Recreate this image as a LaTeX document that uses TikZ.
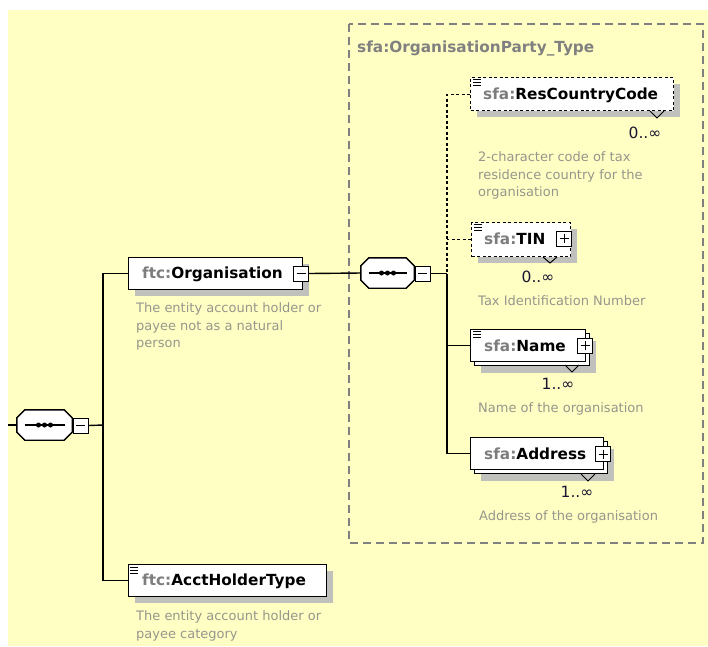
\documentclass[tikz,border=0pt]{standalone}
\usepackage{fontspec}
\setmainfont{DejaVu Sans}
\usetikzlibrary{shadows}
\definecolor{bgy}{RGB}{255,255,196}
\definecolor{shd}{RGB}{192,192,188}
\definecolor{pfx}{RGB}{125,125,125}
\definecolor{dsc}{RGB}{150,150,140}
\definecolor{ttl}{RGB}{128,128,128}
\definecolor{mult}{RGB}{25,20,50}
\tikzset{
  conn/.style={line width=1.4pt, black},
  dconn/.style={line width=1.2pt, black, dash pattern=on 3pt off 2.5pt},
  elbox/.style={draw=black, line width=1.4pt, fill=white, rectangle, inner sep=0pt, anchor=north west},
  optbox/.style={elbox, dash pattern=on 3pt off 2.5pt},
  shadowed/.style={drop shadow={shadow xshift=6pt, shadow yshift=-6pt, fill=shd, opacity=1}},
  stacked/.style={drop shadow={shadow xshift=10pt, shadow yshift=-11pt, fill=shd, opacity=1}, copy shadow={shadow xshift=4pt, shadow yshift=-4pt}},
  pmbox/.style={draw=black, line width=1pt, fill=white, rectangle, minimum size=15pt, inner sep=0pt},
  pmline/.style={line width=1pt, black},
  elname/.style={anchor=base west, inner sep=0pt, font=\fontsize{15.3}{17}\selectfont\bfseries},
  desc/.style={anchor=north west, inner sep=0pt, align=left, text=dsc, font=\fontsize{13}{17.5}\selectfont},
  multl/.style={inner sep=0pt, text=mult, font=\fontsize{15.5}{17}\selectfont},
  seqnode/.style={rectangle, inner sep=0pt},
  octa/.style={draw=black, line width=1.4pt, fill=white},
  icon/.style={line width=0.9pt, black},
  notch/.style={line width=1pt, black},
}
\newcommand\xoctpath[1]{([xshift=8pt]#1.north west) -- ([xshift=-8pt]#1.north east) -- ([yshift=-8pt]#1.north east) -- ([yshift=8pt]#1.south east) -- ([xshift=-8pt]#1.south east) -- ([xshift=8pt]#1.south west) -- ([yshift=8pt]#1.south west) -- ([yshift=-8pt]#1.north west) -- cycle}
\begin{document}
\begin{tikzpicture}[x=1pt,y=-1pt]
\useasboundingbox (0,0) rectangle (708,646);
\fill[white] (0,0) rectangle (708,646);
\fill[bgy] (8,10) rectangle (708,646);

% container
\draw[ttl, line width=1.2pt, dash pattern=on 8pt off 5pt] (349,24) rectangle (703,543);
\node[anchor=base west, inner sep=0pt, text=ttl, font=\fontsize{15.3}{17}\selectfont\bfseries] (ttlt) at (357,52.5) {sfa:OrganisationParty\_Type};

% left sequence
\node[seqnode, minimum width=55pt, minimum height=30pt] (seqL) at (44.5,425) {};
\fill[shd, shift={(6,6)}] \xoctpath{seqL};
\draw[octa] \xoctpath{seqL};
\draw[line width=1.2pt] ([xshift=-20pt]seqL.center) -- ([xshift=20pt]seqL.center);
\foreach \d in {-6,0,6} \fill ([xshift=\d pt]seqL.center) circle (2.5pt);
\node[pmbox] (mL) at (80.5,425.5) {};
\draw[pmline] ([xshift=-4.5pt]mL.center) -- ([xshift=4.5pt]mL.center);
\coordinate (jL) at (103,425);
\coordinate (inL) at (8,425);
\draw[conn] (inL) -- (seqL.west);
\draw[conn] (mL.east) -- (jL);

% Organisation
\node[elbox, shadowed, minimum width=174pt, minimum height=32pt] (org) at (128,257) {};
\node[elname] (orgt) at (142,278.5) {\textcolor{pfx}{ftc:}Organisation};
\node[pmbox] (mO) at (301,273.5) {};
\draw[pmline] ([xshift=-4.5pt]mO.center) -- ([xshift=4.5pt]mO.center);
\node[desc] (orgd) at (136,302.7) {The entity account holder or\\payee not as a natural\\person};

% AcctHolderType
\node[elbox, shadowed, minimum width=198pt, minimum height=32pt] (acct) at (128,564) {};
\node[elname] (acctt) at (142,585.5) {\textcolor{pfx}{ftc:}AcctHolderType};
\foreach \k in {0,3,6} \draw[icon] (130,567+\k) -- (138,567+\k);
\node[desc] (acctd) at (136,610.7) {The entity account holder or\\payee category};

\draw[conn] (org.west) -| (jL);
\draw[conn] (acct.west) -| (jL);

% right sequence
\node[seqnode, minimum width=53pt, minimum height=30pt] (seqR) at (387.5,273) {};
\fill[shd, shift={(6,6)}] \xoctpath{seqR};
\draw[octa] \xoctpath{seqR};
\draw[line width=1.2pt] ([xshift=-19pt]seqR.center) -- ([xshift=19pt]seqR.center);
\foreach \d in {-6,0,6} \fill ([xshift=\d pt]seqR.center) circle (2.5pt);
\node[pmbox] (mR) at (422.5,273.5) {};
\draw[pmline] ([xshift=-4.5pt]mR.center) -- ([xshift=4.5pt]mR.center);
\coordinate (jR) at (447,273.5);
\draw[conn] (mO.east) -- (seqR.west);
\draw[conn] (mR.east) -- (jR);

% ResCountryCode
\node[optbox, shadowed, minimum width=203pt, minimum height=33pt] (res) at (470,77) {};
\node[elname] (rest) at (483,99) {\textcolor{pfx}{sfa:}ResCountryCode};
\foreach \k in {0,3,6} \draw[icon] (473,79+\k) -- (481,79+\k);
\draw[notch] (650,111) -- (657,118) -- (664,111);
\node[multl] (resm) at (645,133) {0..∞};
\node[desc] (resd) at (478,151.7) {2-character code of tax\\residence country for the\\organisation};

% TIN
\node[optbox, shadowed, minimum width=99pt, minimum height=34pt] (tin) at (471,222) {};
\node[elname] (tint) at (484,244.5) {\textcolor{pfx}{sfa:}TIN};
\foreach \k in {0,3,6} \draw[icon] (474,224+\k) -- (482,224+\k);
\node[pmbox] (pT) at (564,238.5) {};
\draw[pmline] ([xshift=-4.5pt]pT.center) -- ([xshift=4.5pt]pT.center);
\draw[pmline] ([yshift=-4.5pt]pT.center) -- ([yshift=4.5pt]pT.center);
\draw[notch] (543,257) -- (550,263) -- (557,257);
\node[multl] (tinm) at (538,277) {0..∞};
\node[desc] (tind) at (478,295.7) {Tax Identification Number};

% Name
\node[elbox, stacked, minimum width=115pt, minimum height=32pt] (name) at (470,329) {};
\node[elname] (namet) at (484,351) {\textcolor{pfx}{sfa:}Name};
\foreach \k in {0,3,6} \draw[icon] (473,331+\k) -- (481,331+\k);
\node[pmbox] (pN) at (585,345.5) {};
\draw[pmline] ([xshift=-4.5pt]pN.center) -- ([xshift=4.5pt]pN.center);
\draw[pmline] ([yshift=-4.5pt]pN.center) -- ([yshift=4.5pt]pN.center);
\draw[notch] (565,365) -- (572,372) -- (579,365);
\node[multl] (namem) at (558,384) {1..∞};
\node[desc] (named) at (478,402.7) {Name of the organisation};

% Address
\node[elbox, stacked, minimum width=133pt, minimum height=32pt] (addr) at (470,437) {};
\node[elname] (addrt) at (484,459) {\textcolor{pfx}{sfa:}Address};
\node[pmbox] (pA) at (603,454) {};
\draw[pmline] ([xshift=-4.5pt]pA.center) -- ([xshift=4.5pt]pA.center);
\draw[pmline] ([yshift=-4.5pt]pA.center) -- ([yshift=4.5pt]pA.center);
\draw[notch] (581,474) -- (588,481) -- (595,474);
\node[multl] (addrm) at (577,492) {1..∞};
\node[desc] (addrd) at (479,510.7) {Address of the organisation};

% right connectors
\draw[dconn] (res.west) -| (jR);
\draw[dconn] (tin.west) -- (tin.west -| jR);
\draw[conn] (name.west) -| (jR);
\draw[conn] (addr.west) -| (jR);
\end{tikzpicture}
\end{document}
